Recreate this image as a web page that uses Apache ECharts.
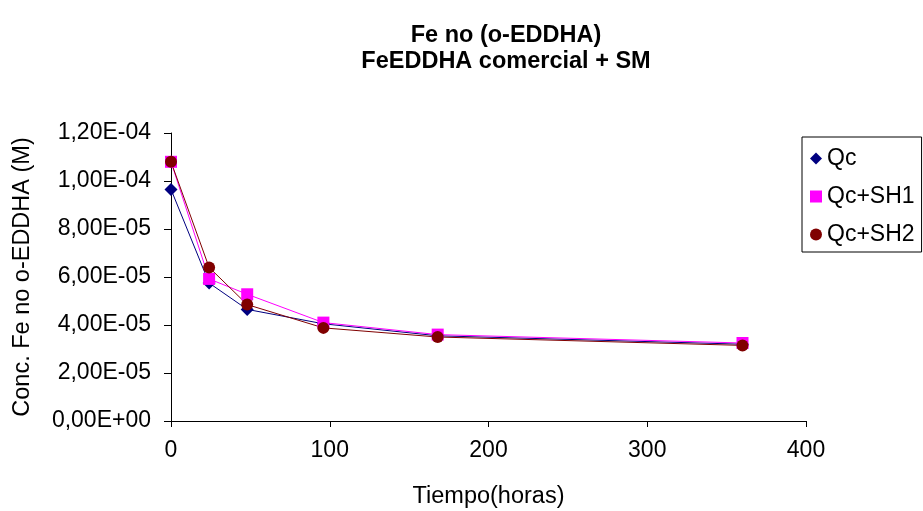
<!DOCTYPE html>
<html>
<head>
<meta charset="utf-8">
<script src="https://cdn.jsdelivr.net/npm/echarts@6/dist/echarts.min.js"></script>
<style>
html,body{margin:0;padding:0;background:#fff;}
#chart{width:923px;height:511px;}
</style>
</head>
<body>
<div id="chart"></div>
<script>
const hours = [0, 24, 48, 96, 168, 360];
const qc    = [9.65e-5, 5.75e-5, 4.65e-5, 4.05e-5, 3.55e-5, 3.20e-5];
const qcSH1 = [1.08e-4, 5.92e-5, 5.28e-5, 4.10e-5, 3.60e-5, 3.25e-5];
const qcSH2 = [1.08e-4, 6.40e-5, 4.85e-5, 3.88e-5, 3.50e-5, 3.15e-5];
const seriesNames = ['Qc', 'Qc+SH1', 'Qc+SH2'];
const xTicks = [0, 100, 200, 300, 400];
const yTicks = [0, 2e-5, 4e-5, 6e-5, 8e-5, 1e-4, 1.2e-4];

function sci(v) {
  let s = v.toExponential(2);
  let [m, e] = s.split('e');
  let sign = e[0] === '-' ? '-' : '+';
  let d = e.replace(/[+-]/, '');
  if (d.length < 2) d = '0' + d;
  return m.replace('.', ',') + 'E' + sign + d;
}
function pairs(ys) { return hours.map((h, i) => [h, ys[i]]); }

const font = "Arial, 'Liberation Sans', sans-serif";
const chart = echarts.init(document.getElementById('chart'), null, {renderer: 'canvas'});
chart.setOption({
  backgroundColor: '#fff',
  animation: false,
  textStyle: {fontFamily: font, color: '#000'},
  title: {
    text: 'Fe no (o-EDDHA)\nFeEDDHA comercial + SM',
    left: 501, top: 18, textAlign: 'center',
    textStyle: {fontFamily: font, fontSize: 23.5, fontWeight: 'bold', color: '#000', lineHeight: 26}
  },
  grid: {left: 171, right: 117, top: 133, bottom: 90, containLabel: false, outerBoundsMode: 'none'},
  legend: {
    orient: 'vertical', left: 802, top: 137,
    padding: [10, 7, 6, 8],
    borderColor: '#000', borderWidth: 1,
    itemWidth: 12, itemHeight: 12, itemGap: 15,
    textStyle: {fontFamily: font, fontSize: 23, color: '#000', lineHeight: 22},
    data: [
      {name: seriesNames[0], icon: 'diamond'},
      {name: seriesNames[1], icon: 'rect'},
      {name: seriesNames[2], icon: 'circle'}
    ]
  },
  xAxis: {
    type: 'value', min: xTicks[0], max: xTicks[xTicks.length - 1], interval: 100,
    name: 'Tiempo(horas)', nameLocation: 'middle', nameGap: 64,
    nameTextStyle: {fontFamily: font, fontSize: 23.5, color: '#000'},
    axisLine: {show: true, lineStyle: {color: '#000', width: 1}},
    axisTick: {show: true, length: 6, lineStyle: {color: '#000'}},
    axisLabel: {fontFamily: font, fontSize: 23, color: '#000', margin: 18},
    splitLine: {show: false}
  },
  yAxis: {
    type: 'value', min: yTicks[0], max: yTicks[yTicks.length - 1], interval: 2e-5,
    name: 'Conc. Fe no o-EDDHA (M)', nameLocation: 'middle', nameGap: 136,
    nameTextStyle: {fontFamily: font, fontSize: 23.5, color: '#000'},
    axisLine: {show: true, lineStyle: {color: '#000', width: 1}},
    axisTick: {show: true, length: 7, lineStyle: {color: '#000'}},
    axisLabel: {fontFamily: font, fontSize: 23, color: '#000', margin: 20, formatter: sci},
    splitLine: {show: false}
  },
  series: [
    {name: seriesNames[0], type: 'line', data: pairs(qc), symbol: 'diamond', symbolSize: 13,
     itemStyle: {color: '#000080'}, lineStyle: {color: '#000080', width: 1}},
    {name: seriesNames[1], type: 'line', data: pairs(qcSH1), symbol: 'rect', symbolSize: 12,
     itemStyle: {color: '#FF00FF'}, lineStyle: {color: '#FF00FF', width: 1}},
    {name: seriesNames[2], type: 'line', data: pairs(qcSH2), symbol: 'circle', symbolSize: 12,
     itemStyle: {color: '#800000'}, lineStyle: {color: '#800000', width: 1}}
  ]
});
</script>
</body>
</html>
